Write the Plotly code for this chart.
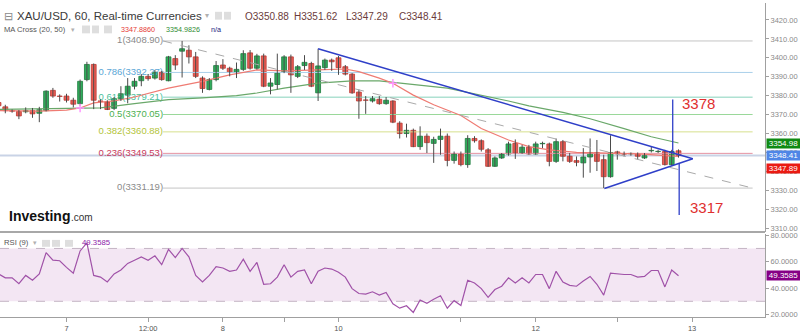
import numpy as np
import plotly.graph_objects as go

W, H = 800, 333

# ---------------- data ----------------
opens = [3376.4, 3374.1, 3372.1, 3371.7, 3371.5, 3372.1, 3370.7, 3372.1, 3382.8, 3379.8,
         3379.8, 3377.6, 3375.8, 3388.5, 3396.5, 3377.2, 3376.7, 3373.3, 3378.4, 3380.3,
         3385.0, 3387.9, 3390.2, 3389.3, 3392.4, 3387.9, 3399.6, 3403.5, 3404.0, 3400.5,
         3389.3, 3383.3, 3388.5, 3396.2, 3394.5, 3392.4, 3393.9, 3402.6, 3394.5, 3401.0,
         3385.0, 3385.9, 3392.7, 3400.5, 3390.2, 3395.9, 3397.0, 3381.5, 3394.8, 3398.8,
         3400.0, 3395.3, 3391.4, 3381.9, 3377.7, 3377.2, 3378.1, 3375.8, 3377.2, 3365.5,
         3360.0, 3361.7, 3353.1, 3358.6, 3354.8, 3356.9, 3358.6, 3345.8, 3349.3, 3343.6,
         3357.4, 3356.2, 3351.4, 3342.7, 3347.1, 3349.2, 3354.8, 3349.7, 3352.8, 3349.2,
         3354.6, 3354.5, 3345.3, 3355.7, 3348.0, 3345.7, 3344.5, 3347.6, 3350.0, 3346.2,
         3337.2, 3350.3, 3349.3, 3349.3, 3349.3, 3347.1, 3350.9, 3350.5, 3350.5, 3343.6,
         3350.88]
highs = [3377.2, 3375.2, 3372.7, 3372.4, 3373.8, 3373.5, 3374.1, 3382.8, 3384.1, 3380.7,
         3381.0, 3378.9, 3388.5, 3397.9, 3397.0, 3378.1, 3377.6, 3379.3, 3385.0, 3389.3,
         3389.3, 3391.4, 3391.4, 3393.6, 3393.1, 3401.0, 3401.4, 3408.9, 3406.6, 3403.1,
         3390.2, 3389.3, 3398.3, 3399.3, 3395.3, 3397.5, 3404.0, 3404.1, 3402.1, 3402.2,
         3389.3, 3402.2, 3401.4, 3401.7, 3396.2, 3401.4, 3397.9, 3404.8, 3399.6, 3399.6,
         3401.0, 3396.2, 3391.9, 3383.3, 3379.8, 3379.8, 3379.8, 3379.3, 3377.6, 3366.5,
         3365.2, 3362.6, 3363.8, 3360.0, 3358.3, 3362.6, 3360.0, 3350.5, 3350.5, 3359.1,
         3358.6, 3356.9, 3352.3, 3347.9, 3349.7, 3355.7, 3356.9, 3354.0, 3354.0, 3355.7,
         3355.7, 3355.2, 3357.4, 3356.6, 3349.7, 3347.9, 3352.3, 3357.4, 3356.6, 3348.8,
         3359.1, 3350.9, 3350.5, 3350.0, 3350.0, 3349.7, 3353.1, 3351.4, 3351.4, 3351.4,
         3351.62]
lows = [3373.6, 3370.7, 3371.0, 3367.6, 3370.7, 3368.3, 3366.0, 3371.7, 3378.9, 3376.9,
        3376.4, 3373.8, 3374.7, 3387.6, 3372.9, 3372.9, 3372.4, 3372.4, 3377.2, 3376.0,
        3383.3, 3385.0, 3387.9, 3388.5, 3387.9, 3387.6, 3393.6, 3389.6, 3397.0, 3389.3,
        3381.5, 3382.8, 3387.6, 3393.6, 3390.2, 3389.3, 3393.1, 3393.8, 3393.8, 3384.5,
        3380.7, 3383.3, 3391.9, 3381.5, 3389.3, 3393.6, 3384.5, 3377.2, 3393.6, 3393.1,
        3391.0, 3390.7, 3381.0, 3367.8, 3370.4, 3376.4, 3375.2, 3375.2, 3365.5, 3357.4,
        3357.9, 3352.8, 3351.4, 3349.7, 3344.5, 3348.8, 3342.7, 3344.1, 3342.7, 3341.9,
        3355.2, 3350.5, 3342.4, 3342.4, 3346.6, 3348.3, 3346.6, 3349.3, 3348.8, 3348.8,
        3352.3, 3342.7, 3344.5, 3345.3, 3344.5, 3342.7, 3336.7, 3339.3, 3340.2, 3331.2,
        3336.7, 3346.2, 3347.9, 3348.3, 3346.2, 3346.6, 3350.0, 3349.7, 3343.1, 3343.1,
        3347.29]
closes = [3374.7, 3372.1, 3371.8, 3369.3, 3372.1, 3370.4, 3372.6, 3382.4, 3379.8, 3379.6,
          3377.6, 3375.5, 3387.6, 3396.5, 3377.6, 3377.0, 3372.7, 3378.4, 3381.0, 3385.0,
          3387.6, 3390.2, 3389.0, 3392.4, 3388.5, 3400.5, 3396.2, 3404.8, 3400.5, 3390.2,
          3383.8, 3388.5, 3395.9, 3394.5, 3392.4, 3393.9, 3402.2, 3394.5, 3401.0, 3385.0,
          3386.7, 3391.9, 3400.5, 3391.0, 3395.3, 3397.6, 3385.0, 3395.7, 3398.8, 3397.9,
          3394.8, 3391.4, 3381.5, 3377.2, 3377.6, 3378.4, 3375.8, 3377.6, 3366.0, 3360.0,
          3361.7, 3353.1, 3358.6, 3355.2, 3356.9, 3358.6, 3345.8, 3349.3, 3343.6, 3357.4,
          3356.2, 3351.7, 3342.7, 3347.1, 3349.2, 3354.5, 3349.7, 3352.8, 3349.2, 3354.5,
          3354.8, 3345.3, 3355.7, 3348.0, 3345.3, 3344.8, 3347.6, 3350.0, 3345.3, 3337.2,
          3350.0, 3349.3, 3349.2, 3349.5, 3348.0, 3348.3, 3351.1, 3350.6, 3343.6, 3350.5,
          3348.41]

ma20_idx = [0, 6, 10, 12, 14, 17, 20, 25, 30, 34, 38, 42, 47, 51, 53, 56, 58, 59, 61,
            64, 68, 71, 75, 78, 81, 85, 88, 94, 100]
ma20_val = [3372.1, 3371.8, 3372.4, 3373.5, 3376.2, 3377.2, 3379.3, 3384.0, 3387.6, 3391.0,
            3393.6, 3393.1, 3393.6, 3394.1, 3392.7, 3389.3, 3386.6, 3384.6, 3380.3,
            3375.2, 3369.5, 3362.7, 3356.6, 3353.1, 3351.4, 3350.0, 3349.7, 3349.3, 3347.886]
ma50_idx = [0, 12, 15, 20, 25, 30, 35, 38, 42, 47, 52, 56, 58, 62, 66, 75, 78, 83, 87,
            92, 96, 100]
ma50_val = [3372.7, 3373.3, 3373.6, 3375.8, 3377.9, 3378.8, 3380.0, 3381.4, 3384.0, 3386.6,
            3387.8, 3387.8, 3387.0, 3385.7, 3384.0, 3377.2, 3374.6, 3371.2, 3367.8,
            3362.6, 3358.3, 3354.9826]
cross_idx = [12, 58]
cross_val = [3373.5, 3386.6]

rsi = [50.7, 47.8, 47.8, 43.3, 49.6, 45.9, 50.7, 66.8, 61.1, 60.7,
       55.7, 51.3, 68.1, 74.2, 49.6, 48.3, 44.6, 50.7, 53.7, 58.7,
       61.1, 63.6, 61.1, 64.4, 57.7, 69.3, 63.1, 70.0, 63.6, 49.6,
       44.6, 49.6, 56.2, 55.2, 52.7, 53.7, 61.9, 52.7, 59.4, 42.9,
       43.3, 48.3, 57.7, 48.3, 52.7, 53.7, 43.3, 52.7, 55.2, 54.4,
       52.0, 48.3, 39.6, 35.9, 35.5, 37.2, 34.7, 36.7, 28.1, 24.8,
       26.6, 21.6, 31.0, 28.5, 31.5, 34.2, 24.8, 30.5, 26.8, 45.9,
       43.9, 39.6, 33.0, 38.9, 41.4, 47.8, 43.9, 47.8, 43.9, 50.3,
       50.3, 39.6, 52.7, 44.6, 42.1, 41.4, 45.3, 48.8, 42.9, 34.7,
       51.3, 50.7, 50.3, 50.3, 48.3, 48.8, 53.3, 53.3, 40.9, 53.7,
       49.3585]
rsi_levels = [30, 70]

fib_ratio = ['1', '0.786', '0.618', '0.5', '0.382', '0.236', '0']
fib_price = [3408.90, 3392.27, 3379.21, 3370.05, 3360.88, 3349.53, 3331.19]
fib_x = [24.2, 110.9]

tri_x = [47.0, 102.1, 89.1]
tri_y = [3404.8, 3346.7, 3331.0]
proj_x = [99.15, 100.1]
proj_target = [3378, 3317]

x_tickvals = [10, 22, 33, 42, 50, 68, 79, 91, 102]
x_ticktext = ['7', '12:00', '8', '', '10', '', '12', '', '13']
price_ticks = [3310, 3320, 3330, 3340, 3350, 3360, 3370, 3380, 3390, 3400, 3410, 3420]
rsi_ticks = [20, 40, 60, 80]

# ---------------- geometry / styles ----------------
FONT = 'Liberation Sans, Arial, sans-serif'
XR = 765 / W
SPACING = 6.8
X0PX = -1.5
x_lo = (0 - X0PX) / SPACING
x_hi = (765 - X0PX) / SPACING


def pxx(x):
    return x / W


def pyy(y):
    return 1 - y / H


fib_line_col = ['#c4c4c4', '#a9d0ea', '#86d2bb', '#9ad89a', '#d6e08e', '#e592a2', '#c4c4c4']
fib_text_col = ['#8a8a8a', '#5aa6d6', '#4cbf9c', '#4cb050', '#b3c43a', '#c83a5c', '#8a8a8a']

o = np.array(opens)
c = np.array(closes)
h = np.array(highs)
l = np.array(lows)
n = len(c)
idx = np.arange(n)
up = c >= o

fig = go.Figure()

# fib levels
for r, p, lc, tc in zip(fib_ratio, fib_price, fib_line_col, fib_text_col):
    fig.add_trace(go.Scatter(x=fib_x, y=[p, p], mode='lines', line=dict(color=lc, width=1),
                             hoverinfo='skip', xaxis='x', yaxis='y'))
    fig.add_trace(go.Scatter(x=[fib_x[0]], y=[p], mode='text', text=[f'{r}({p:.2f})'],
                             textposition='middle left', textfont=dict(family=FONT, size=9.5, color=tc),
                             hoverinfo='skip', xaxis='x', yaxis='y'))

# moving averages
fig.add_trace(go.Scatter(x=ma50_idx, y=ma50_val, mode='lines', line=dict(color='#6aa86a', width=1.2),
                         hoverinfo='skip', xaxis='x', yaxis='y'))
fig.add_trace(go.Scatter(x=ma20_idx, y=ma20_val, mode='lines', line=dict(color='#ef7b73', width=1.2),
                         hoverinfo='skip', xaxis='x', yaxis='y'))

# wicks
wx, wy = [], []
for i in range(n):
    wx += [idx[i], idx[i], None]
    wy += [l[i], h[i], None]
fig.add_trace(go.Scatter(x=wx, y=wy, mode='lines', line=dict(color='#4a4a4a', width=1),
                         hoverinfo='skip', xaxis='x', yaxis='y'))

# bodies
body_base = np.minimum(o, c)
body_h = np.maximum(np.abs(c - o), 0.05)
fill = ['#30ad5c' if u else '#ec5b52' for u in up]
edge = ['#1d7a3c' if u else '#b83a34' for u in up]
fig.add_trace(go.Bar(x=idx, y=body_h, base=body_base, width=0.72,
                     marker=dict(color=fill, line=dict(color=edge, width=0.8)),
                     hoverinfo='skip', xaxis='x', yaxis='y'))

# MA cross markers
fig.add_trace(go.Scatter(x=cross_idx, y=cross_val, mode='markers',
                         marker=dict(symbol='cross-thin-open', size=6, line=dict(color='#23349a', width=1.5)),
                         hoverinfo='skip', xaxis='x', yaxis='y'))

# dashed fib trend line
fig.add_trace(go.Scatter(x=fib_x, y=[fib_price[0], fib_price[-1]], mode='lines',
                         line=dict(color='#aaaaaa', width=1, dash='dash'),
                         hoverinfo='skip', xaxis='x', yaxis='y'))

# triangle
fig.add_trace(go.Scatter(x=tri_x, y=tri_y, mode='lines', line=dict(color='#2f3fc8', width=1.5),
                         hoverinfo='skip', xaxis='x', yaxis='y'))

# projection lines
start_up = float(np.interp(proj_x[0], [tri_x[0], tri_x[1]], [tri_y[0], tri_y[1]]))
start_dn = float(np.interp(proj_x[1], [tri_x[2], tri_x[1]], [tri_y[2], tri_y[1]]))
fig.add_trace(go.Scatter(x=[proj_x[0], proj_x[0], None, proj_x[1], proj_x[1]],
                         y=[start_up, proj_target[0], None, start_dn, proj_target[1]],
                         mode='lines', line=dict(color='#2f3fc8', width=1.3),
                         hoverinfo='skip', xaxis='x', yaxis='y'))

# RSI
fig.add_trace(go.Scatter(x=idx, y=rsi, mode='lines', line=dict(color='#a052a8', width=1.2),
                         hoverinfo='skip', xaxis='x', yaxis='y2'))

shapes = []
# RSI band and levels
shapes.append(dict(type='rect', xref='paper', yref='y2', x0=0, x1=XR, y0=rsi_levels[0], y1=rsi_levels[1],
                   fillcolor='#f3e6f3', line=dict(width=0), layer='below'))
for lv in rsi_levels:
    shapes.append(dict(type='line', xref='paper', yref='y2', x0=0, x1=XR, y0=lv, y1=lv,
                       line=dict(color='#c4b4c4', width=1, dash='dash'), layer='below'))
# last price line
shapes.append(dict(type='line', xref='paper', yref='y', x0=0, x1=XR, y0=closes[-1], y1=closes[-1],
                   line=dict(color='#c9d3e6', width=2), layer='below'))
# panel separator
shapes.append(dict(type='line', xref='paper', yref='paper', x0=0, x1=XR, y0=pyy(234), y1=pyy(234),
                   line=dict(color='#a8a8a8', width=2)))
# small header icons
for (x0, y0, x1, y1) in [(215, 9, 222, 17), (224, 9, 231, 17),
                         (82, 23, 90, 31), (92, 23, 99, 31), (104, 23, 112, 31),
                         (42, 242, 50, 249), (52, 242, 60, 249), (65, 242, 73, 249)]:
    shapes.append(dict(type='rect', xref='paper', yref='paper', x0=pxx(x0), x1=pxx(x1),
                       y0=pyy(y1), y1=pyy(y0), fillcolor='#dedede', line=dict(width=0)))

ann = []


def txt(x, y, s, size, color, xanchor='left', bold=False):
    ann.append(dict(xref='paper', yref='paper', x=pxx(x), y=pyy(y), text=f'<b>{s}</b>' if bold else s,
                    showarrow=False, xanchor=xanchor, yanchor='middle',
                    font=dict(family=FONT, size=size, color=color)))


txt(2, 13, '⊟', 11, '#8a8a8a')
txt(15, 13, 'XAU/USD, 60, Real-time Currencies', 11.5, '#3a3a3a')
txt(203, 13, '▾', 8, '#b0b0b0')
ohlc_col = '#6b3b3b'
txt(243, 14, f'O{opens[-1]:.2f}', 10, ohlc_col)
txt(292, 14, f'H{highs[-1]:.2f}', 10, ohlc_col)
txt(344, 14, f'L{lows[-1]:.2f}', 10, ohlc_col)
txt(397, 14, f'C{closes[-1]:.2f}', 10, ohlc_col)

txt(2, 27, 'MA Cross (20, 50)', 7.6, '#555555')
txt(69, 27, '▾', 7, '#b0b0b0')
txt(119, 27, f'{ma20_val[-1]:.4f}', 7.2, '#e53935')
txt(164, 27, f'{ma50_val[-1]:.4f}', 7.2, '#2e8b32')
txt(209, 27, 'n/a', 7.2, '#1a237e')

txt(2, 245, 'RSI (9)', 7.7, '#555555')
txt(31, 245, '▾', 7, '#b0b0b0')
txt(80, 245, f'{rsi[-1]:.4f}', 7.8, '#8e24aa')

txt(7, 217.5, 'Investing', 14, '#111111', bold=True)
txt(68.5, 219, '.com', 10, '#333333')

# projection labels
ann.append(dict(xref='x', yref='y', x=proj_x[0], y=proj_target[0], text=str(proj_target[0]),
                showarrow=False, xanchor='left', yanchor='middle', xshift=7, yshift=-4,
                font=dict(family=FONT, size=15, color='#e03030')))
ann.append(dict(xref='x', yref='y', x=proj_x[1], y=proj_target[1], text=str(proj_target[1]),
                showarrow=False, xanchor='left', yanchor='middle', xshift=9, yshift=7.5,
                font=dict(family=FONT, size=15, color='#e03030')))


def tag(val, yref, s, bg, yshift=0):
    ann.append(dict(xref='paper', yref=yref, x=pxx(766), y=val, text=s, showarrow=False,
                    xanchor='left', yanchor='middle', yshift=yshift, width=33, height=9,
                    bgcolor=bg, borderpad=0, align='center',
                    font=dict(family=FONT, size=8, color='white')))


tag(ma50_val[-1], 'y', f'{ma50_val[-1]:.2f}', '#0f8a12')
tag(closes[-1], 'y', f'{closes[-1]:.2f}', '#4f86e6')
tag(ma20_val[-1], 'y', f'{ma20_val[-1]:.2f}', '#ea1a12', yshift=-12)
tag(rsi[-1], 'y2', f'{rsi[-1]:.4f}', '#850085')

fig.update_layout(
    width=W, height=H, margin=dict(l=0, r=0, t=0, b=0),
    paper_bgcolor='white', plot_bgcolor='white', showlegend=False,
    font=dict(family=FONT, color='#555555'),
    xaxis=dict(domain=[0, XR], range=[x_lo, x_hi], anchor='y2', showgrid=False, zeroline=False,
               showline=True, linecolor='#a0a0a0', linewidth=1, ticks='outside', ticklen=4,
               tickcolor='#a0a0a0', tickvals=x_tickvals, ticktext=x_ticktext,
               tickfont=dict(family=FONT, size=7.5, color='#555555'),
               rangeslider=dict(visible=False), fixedrange=True),
    yaxis=dict(domain=[pyy(234), 1], range=[3307.95, 3428.95], side='right', anchor='x',
               showgrid=False, zeroline=False, showline=True, linecolor='#a0a0a0', linewidth=1,
               ticks='outside', ticklen=3, tickcolor='#a0a0a0', tickvals=price_ticks,
               ticktext=[f'{v:.2f}' for v in price_ticks],
               tickfont=dict(family=FONT, size=7.5, color='#8a8a8a'), fixedrange=True),
    yaxis2=dict(domain=[pyy(320.5), pyy(236)], range=[18.3, 80.9], side='right', anchor='x',
                showgrid=False, zeroline=False, showline=True, linecolor='#a0a0a0', linewidth=1,
                ticks='outside', ticklen=3, tickcolor='#a0a0a0', tickvals=rsi_ticks,
                ticktext=[f'{v:.4f}' for v in rsi_ticks],
                tickfont=dict(family=FONT, size=7.5, color='#8a8a8a'), fixedrange=True),
    shapes=shapes, annotations=ann,
)

fig.write_html('out.html', config={'displayModeBar': False})
